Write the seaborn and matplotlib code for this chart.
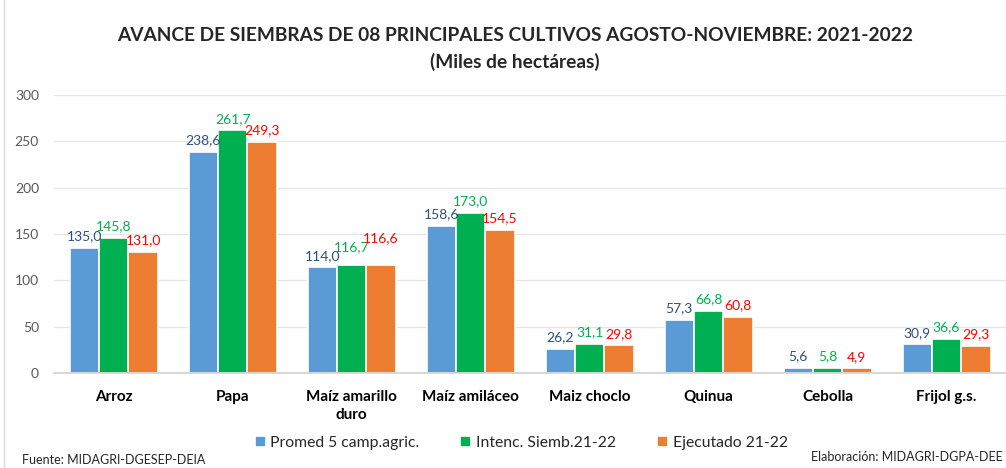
import matplotlib
matplotlib.use("Agg")
import matplotlib.pyplot as plt
import seaborn as sns
import pandas as pd
from matplotlib.lines import Line2D

categories = ["Arroz", "Papa", "Maíz amarillo\nduro", "Maíz amiláceo", "Maiz choclo", "Quinua", "Cebolla", "Frijol g.s."]
series = ["Promed 5 camp.agric.", "Intenc. Siemb.21-22", "Ejecutado 21-22"]
promedio = [135.0, 238.6, 114.0, 158.6, 26.2, 57.3, 5.6, 30.9]
intencion = [145.8, 261.7, 116.7, 173.0, 31.1, 66.8, 5.8, 36.6]
ejecutado = [131.0, 249.3, 116.6, 154.5, 29.8, 60.8, 4.9, 29.3]
yticks = [0, 50, 100, 150, 200, 250, 300]

bar_colors = ["#5B9BD5", "#00B050", "#ED7D31"]
label_colors = ["#2F4F7F", "#00B050", "#FF0000"]

sns.set_theme(style="white")
plt.rcParams["font.family"] = ["Lato", "DejaVu Sans"]

rows = []
for s, vals in zip(series, [promedio, intencion, ejecutado]):
    for c, v in zip(categories, vals):
        rows.append({"cat": c, "serie": s, "valor": v})
df = pd.DataFrame(rows)

fig = plt.figure(figsize=(10.06, 4.68), dpi=100)
ax = fig.add_axes([0.054, 0.203, 0.946, 0.594])

sns.barplot(data=df, x="cat", y="valor", hue="serie", order=categories, hue_order=series,
            palette=bar_colors, saturation=1, width=0.74, edgecolor="white", linewidth=1.2,
            errorbar=None, ax=ax, legend=True)

ax.set_ylim(0, 300)
ax.set_xlim(-0.5, 7.5)
ax.set_yticks(yticks)
ax.set_yticklabels([str(t) for t in yticks], color="#595959", fontsize=10)
ax.set_xlabel("")
ax.set_ylabel("")
ax.tick_params(axis="x", length=0, pad=12)
ax.tick_params(axis="y", length=0, pad=11)
for lbl in ax.get_xticklabels():
    lbl.set_fontweight("bold")
    lbl.set_fontsize(11)
    lbl.set_color("#000000")
    lbl.set_linespacing(1.35)
ax.yaxis.grid(True, color="#E6E6E6", linewidth=1)
ax.set_axisbelow(True)
for sp in ["left", "right", "top"]:
    ax.spines[sp].set_visible(False)
ax.spines["bottom"].set_color("#D0D0D0")
ax.spines["bottom"].set_linewidth(1.2)

# data labels, with Excel-like nudging when neighbouring labels collide
label_sets = []
for cont, col in zip(ax.containers, label_colors):
    texts = ax.bar_label(cont, labels=[f"{v:.1f}".replace(".", ",") for v in cont.datavalues],
                         color=col, fontsize=10, padding=4)
    label_sets.append(texts)

fig.canvas.draw()
renderer = fig.canvas.get_renderer()
for k in range(len(categories)):
    prev = None
    for s in range(len(series)):
        t = label_sets[s][k]
        if prev is not None:
            bb = t.get_window_extent(renderer)
            pb = prev.get_window_extent(renderer)
            hov = min(bb.x1, pb.x1) - max(bb.x0, pb.x0)
            vov = min(bb.y1, pb.y1) - max(bb.y0, pb.y0)
            if hov > 2 and vov > 2:
                shift = pb.y1 - bb.y0 - 3
                x, y = t.xyann
                t.xyann = (x, y + shift * 72 / fig.dpi)
        prev = t

handles, labels = ax.get_legend_handles_labels()
ax.legend_.remove()
fig.legend(handles, labels, loc="center", bbox_to_anchor=(0.518, 0.053), ncol=3, frameon=False,
           fontsize=11.3, handlelength=0.7, handleheight=0.7, handletextpad=0.3, columnspacing=2.6)

fig.text(0.512, 0.925, "AVANCE DE SIEMBRAS DE 08 PRINCIPALES CULTIVOS AGOSTO-NOVIEMBRE: 2021-2022",
         ha="center", va="center", fontsize=13.8, fontweight="bold")
fig.text(0.512, 0.868, "(Miles de hectáreas)", ha="center", va="center", fontsize=13.8, fontweight="bold")
fig.text(0.022, 0.017, "Fuente: MIDAGRI-DGESEP-DEIA", ha="left", va="center", fontsize=9)
fig.text(0.997, 0.024, "Elaboración: MIDAGRI-DGPA-DEE", ha="right", va="center", fontsize=9)

fig.add_artist(Line2D([0.004, 0.004], [0.0, 1.0], transform=fig.transFigure, color="#D9D9D9", linewidth=1))

fig.savefig("out.png", dpi=100)
